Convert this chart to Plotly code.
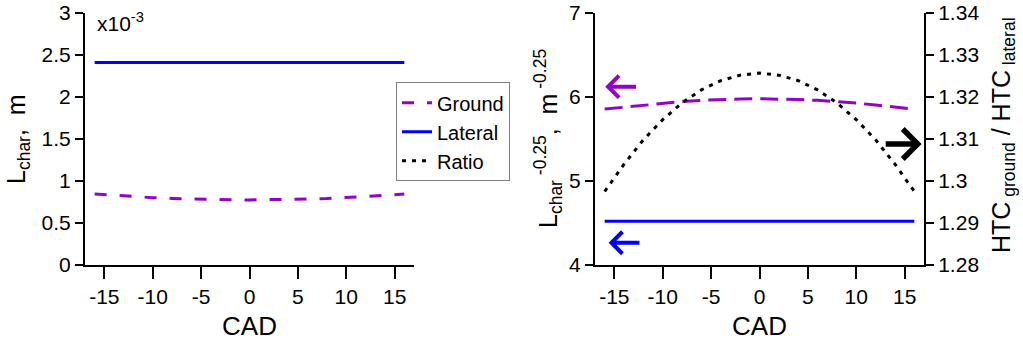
import plotly.graph_objects as go

# Crank angle (CAD) sample positions
cad = [-16, -14, -12, -10, -8, -6, -4, -2, 0, 2, 4, 6, 8, 10, 12, 14, 16]

# Characteristic length, x10^-3 m
l_ground = [0.845, 0.829, 0.814, 0.802, 0.792, 0.785, 0.779, 0.776, 0.775,
            0.776, 0.779, 0.785, 0.792, 0.802, 0.814, 0.829, 0.845]
l_lateral = [2.41] * 17

# Characteristic length to the power -0.25, m^-0.25
lp_ground = [5.856, 5.880, 5.905, 5.927, 5.945, 5.960, 5.970, 5.976, 5.979,
             5.976, 5.970, 5.960, 5.945, 5.927, 5.905, 5.880, 5.856]
lp_lateral = [4.52] * 17

# Heat transfer coefficient ratio ground / lateral
htc_ratio = [1.2975, 1.3040, 1.3098, 1.3146, 1.3186, 1.3217, 1.3239, 1.3252, 1.3257,
             1.3252, 1.3239, 1.3217, 1.3186, 1.3146, 1.3098, 1.3040, 1.2975]

# Tick labels
x_ticks = [-15, -10, -5, 0, 5, 10, 15]
x_tick_text = ["-15", "-10", "-5", "0", "5", "10", "15"]
l_ticks = [0, 0.5, 1, 1.5, 2, 2.5, 3]
l_tick_text = ["0", "0.5", "1", "1.5", "2", "2.5", "3"]
lp_ticks = [4, 5, 6, 7]
lp_tick_text = ["4", "5", "6", "7"]
r_ticks = [1.28, 1.29, 1.30, 1.31, 1.32, 1.33, 1.34]
r_tick_text = ["1.28", "1.29", "1.3", "1.31", "1.32", "1.33", "1.34"]

PURPLE = "#9400D3"
BLUE = "#0000FF"
FONT = "Liberation Sans, Arial, sans-serif"
W, H = 1023, 341

fig = go.Figure()

# Left panel
fig.add_trace(go.Scatter(x=cad, y=l_ground, mode="lines", name="Ground",
                         line=dict(color=PURPLE, width=3, dash="12px,13px"),
                         xaxis="x", yaxis="y"))
fig.add_trace(go.Scatter(x=cad, y=l_lateral, mode="lines", name="Lateral",
                         line=dict(color=BLUE, width=3),
                         xaxis="x", yaxis="y"))

# Right panel
fig.add_trace(go.Scatter(x=cad, y=lp_ground, mode="lines", name="Ground", showlegend=False,
                         line=dict(color=PURPLE, width=3, dash="18px,8px"),
                         xaxis="x2", yaxis="y2"))
fig.add_trace(go.Scatter(x=cad, y=lp_lateral, mode="lines", name="Lateral", showlegend=False,
                         line=dict(color=BLUE, width=3),
                         xaxis="x2", yaxis="y2"))
fig.add_trace(go.Scatter(x=cad, y=htc_ratio, mode="lines", name="Ratio",
                         line=dict(color="black", width=3, dash="4px,6px"),
                         xaxis="x2", yaxis="y3"))

axis_common = dict(showgrid=False, zeroline=False, showline=True, linecolor="black",
                   linewidth=2, ticks="outside", tickcolor="black", tickwidth=2,
                   tickfont=dict(family=FONT, size=21, color="black"), automargin=False)

xaxis_common = dict(axis_common, range=[-17, 17], tickvals=x_ticks, ticktext=x_tick_text,
                    ticklen=12,
                    title=dict(text="CAD", font=dict(family=FONT, size=26, color="black"),
                               standoff=10))

fig.update_layout(
    width=W, height=H,
    margin=dict(l=0, r=0, t=13, b=76),
    paper_bgcolor="white", plot_bgcolor="white",
    font=dict(family=FONT, color="black"),
    xaxis=dict(xaxis_common, domain=[85 / W, 414 / W], anchor="y"),
    yaxis=dict(axis_common, range=[0, 3], tickvals=l_ticks, ticktext=l_tick_text,
               ticklen=8, anchor="x"),
    xaxis2=dict(xaxis_common, domain=[595 / W, 924 / W], anchor="y2"),
    yaxis2=dict(axis_common, range=[4, 7], tickvals=lp_ticks, ticktext=lp_tick_text,
                ticklen=8, anchor="x2"),
    yaxis3=dict(axis_common, range=[1.28, 1.34], tickvals=r_ticks, ticktext=r_tick_text,
                ticklen=8, overlaying="y2", side="right", anchor="x2"),
    legend=dict(x=396 / W, y=0.725, xanchor="left", yanchor="top",
                bordercolor="#808080", borderwidth=1, bgcolor="white",
                font=dict(family=FONT, size=20, color="black")),
    showlegend=True,
)

annotations = [
    # Scale factor for the left axis
    dict(text="x10<sup>-3</sup>", x=95 / W, y=(265 - 22) / 252, xref="paper", yref="paper",
         xanchor="left", yanchor="middle", showarrow=False,
         font=dict(family=FONT, size=21, color="black")),
    # Y-axis titles
    dict(text="L<sub>char</sub>,  m", x=18 / W, y=0.5, xref="paper", yref="paper",
         textangle=-90, showarrow=False, xanchor="center", yanchor="middle",
         font=dict(family=FONT, size=25, color="black")),
    dict(text="L<sub>char</sub><sup> -0.25</sup>,  m<sup> -0.25</sup>", x=548 / W, y=0.5,
         xref="paper", yref="paper", textangle=-90, showarrow=False,
         xanchor="center", yanchor="middle",
         font=dict(family=FONT, size=25, color="black")),
    dict(text="HTC<sub> ground</sub> / HTC<sub> lateral</sub>", x=1003 / W, y=0.516,
         xref="paper", yref="paper", textangle=-90, showarrow=False,
         xanchor="center", yanchor="middle",
         font=dict(family=FONT, size=25, color="black")),
]
fig.update_layout(annotations=annotations)


def axis_arrow(x, y, yref, direction, length, head, width, color):
    """Open-headed arrow whose tip sits at (x, y); sizes are in pixels."""
    d = direction  # -1 points left, +1 points right
    path = (f"M{-d * length},0 L0,0 "
            f"M{-d * head},{head} L0,0 L{-d * head},{-head}")
    fig.add_shape(type="path", path=path, xref="x2", yref=yref,
                  xsizemode="pixel", ysizemode="pixel", xanchor=x, yanchor=y,
                  line=dict(color=color, width=width))


# Arrows showing which axis each curve is read against
axis_arrow(-15.65, 6.123, "y2", -1, 28, 11, 4, PURPLE)
axis_arrow(-15.30, 4.265, "y2", -1, 28, 11, 4, BLUE)
axis_arrow(16.35, 5.44, "y2", 1, 32, 15, 5.5, "black")

fig.write_html("out.html")
